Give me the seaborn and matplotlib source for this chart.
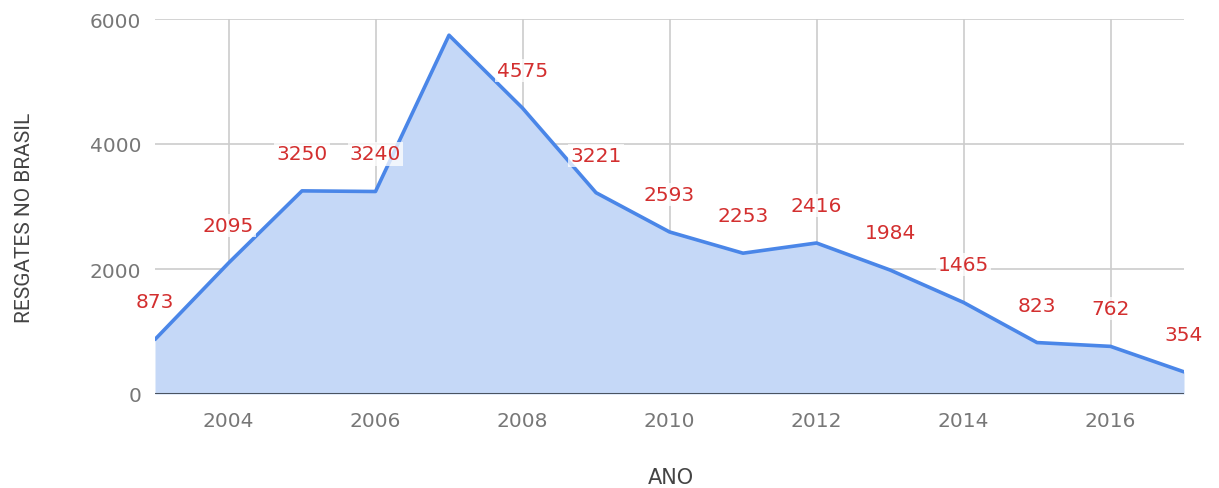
import matplotlib
matplotlib.use("Agg")
import matplotlib.pyplot as plt
import seaborn as sns
import pandas as pd

years = [2003, 2004, 2005, 2006, 2007, 2008, 2009, 2010, 2011, 2012, 2013, 2014, 2015, 2016, 2017]
rescues = [873, 2095, 3250, 3240, 5741, 4575, 3221, 2593, 2253, 2416, 1984, 1465, 823, 762, 354]
show_label = [True, True, True, True, False, True, True, True, True, True, True, True, True, True, True]
x_ticks = [2004, 2006, 2008, 2010, 2012, 2014, 2016]
y_ticks = [0, 2000, 4000, 6000]

df = pd.DataFrame({"ano": years, "resgates": rescues})

sns.set_theme(style="white")
plt.rcParams['font.family'] = ['DejaVu Sans']

fig = plt.figure(figsize=(12.19, 4.89), dpi=100)
ax = fig.add_axes([155 / 1219, 94 / 489, 1029 / 1219, 375 / 489])

line_c = "#4a86e8"
fill_c = "#c5d8f7"

ax.fill_between(df["ano"], 0, df["resgates"], color=fill_c, linewidth=0, zorder=1)
sns.lineplot(data=df, x="ano", y="resgates", ax=ax, color=line_c, linewidth=2.6, zorder=3)

ax.set_xlim(2003, 2017)
ax.set_ylim(0, 6000)
ax.set_xticks(x_ticks)
ax.set_yticks(y_ticks)
ax.grid(True, color="#cccccc", linewidth=1.2, zorder=0)
ax.set_axisbelow(True)
ax.axhline(0, color="#4a5360", linewidth=2.2, zorder=4)
for s in ax.spines.values():
    s.set_visible(False)

ax.tick_params(axis="both", length=0, labelsize=14.5, labelcolor="#777777")
ax.tick_params(axis="x", pad=12)
ax.tick_params(axis="y", pad=10)

for x, y, show in zip(years, rescues, show_label):
    if not show:
        continue
    ax.annotate(str(y), (x, y), xytext=(0, 27), textcoords="offset points",
                ha="center", va="center", fontsize=14.5, color="#d32f2f",
                bbox=dict(boxstyle="square,pad=0.1", fc="white", ec="none", alpha=0.75),
                zorder=5, annotation_clip=False)

ax.set_xlabel("ANO", fontsize=15, color="#444444")
ax.xaxis.set_label_coords(0.501, -0.221)
ax.xaxis.label.set_va("center")
ax.set_ylabel("RESGATES NO BRASIL", fontsize=15, color="#444444",
              family=['Roboto', 'DejaVu Sans'])
ax.yaxis.set_label_coords(-0.127, 0.472)
ax.yaxis.label.set_va("center")

fig.savefig("out.png", dpi=100, facecolor="white")
